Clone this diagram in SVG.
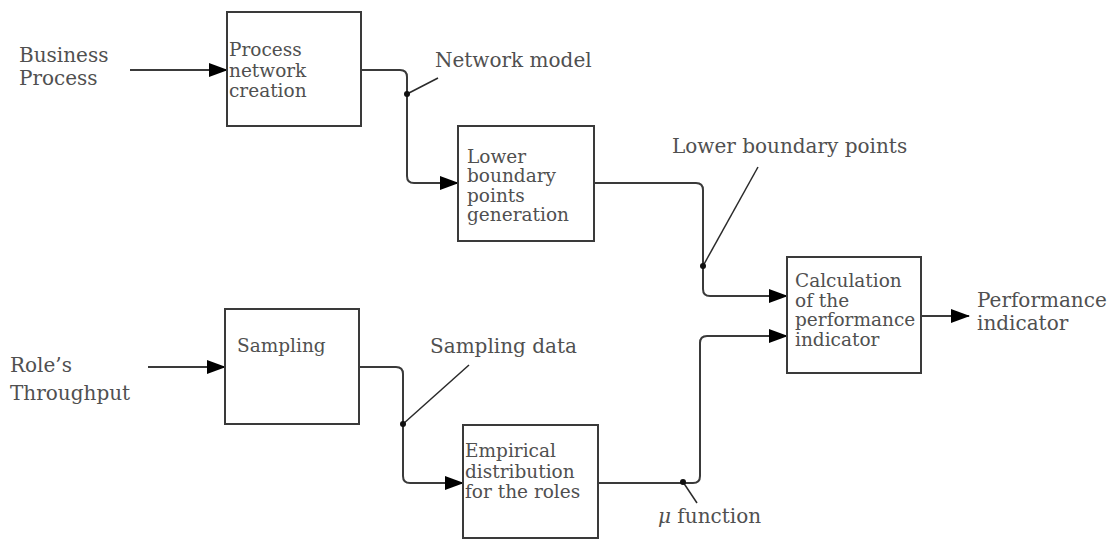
<svg xmlns="http://www.w3.org/2000/svg" width="1113" height="540" viewBox="0 0 1113 540">
<defs>
<style>
.box{fill:#fff;stroke:#3a3a3a;stroke-width:2}
.t{font-family:"DejaVu Serif","Liberation Serif",serif;font-size:18.5px;fill:#505050}
.lab{font-family:"DejaVu Serif","Liberation Serif",serif;font-size:20px;fill:#505050}
.c{fill:none;stroke:#3a3a3a;stroke-width:2}
.ld{fill:none;stroke:#2a2a2a;stroke-width:1.5}
.dot{fill:#111}
</style>
<marker id="ah" markerUnits="userSpaceOnUse" markerWidth="19" markerHeight="15" refX="18" refY="7" orient="auto">
<path d="M0,0 L19,7 L0,14 z" fill="#000"/>
</marker>
</defs>
<rect width="1113" height="540" fill="#fff"/>

<g id="connectors">
<path class="c" d="M130,70 H227" marker-end="url(#ah)"/>
<path class="c" d="M361,70 H400 Q407,70 407,77 V176 Q407,183 414,183 H458" marker-end="url(#ah)"/>
<path class="c" d="M594,183 H696 Q703,183 703,190 V289 Q703,296 710,296 H787" marker-end="url(#ah)"/>
<path class="c" d="M148,367 H225" marker-end="url(#ah)"/>
<path class="c" d="M359,367 H396 Q403,367 403,374 V476 Q403,483 410,483 H463" marker-end="url(#ah)"/>
<path class="c" d="M598,483 H693 Q700,483 700,476 V343 Q700,336 707,336 H787" marker-end="url(#ah)"/>
<path class="c" d="M921,316 H969" marker-end="url(#ah)"/>
<line class="ld" x1="407" y1="94" x2="438" y2="78"/>
<line class="ld" x1="703" y1="266" x2="758" y2="167"/>
<line class="ld" x1="403" y1="424" x2="469" y2="365"/>
<line class="ld" x1="683" y1="482" x2="697" y2="503"/>
<circle class="dot" cx="407" cy="94" r="3"/>
<circle class="dot" cx="703" cy="266" r="3"/>
<circle class="dot" cx="403" cy="424" r="3"/>
<circle class="dot" cx="683" cy="482" r="3"/>
</g>

<g id="labels">
<text class="lab" x="19" y="62">Business</text>
<text class="lab" x="19" y="85">Process</text>
<text class="lab" x="435" y="67">Network model</text>
<text class="lab" x="672" y="153">Lower boundary points</text>
<text class="lab" x="10" y="372">Role’s</text>
<text class="lab" x="10" y="400">Throughput</text>
<text class="lab" x="430" y="353">Sampling data</text>
<text class="lab" x="658" y="523"><tspan font-style="italic">μ</tspan> function</text>
<text class="lab" x="977" y="307">Performance</text>
<text class="lab" x="977" y="330">indicator</text>
</g>

<g id="node-process-network">
<rect class="box" x="227" y="12" width="134" height="114"/>
<text class="t" x="229" y="56">Process</text>
<text class="t" x="229" y="77">network</text>
<text class="t" x="229" y="97">creation</text>
</g>

<g id="node-lower-boundary">
<rect class="box" x="458" y="126" width="136" height="115"/>
<text class="t" x="467" y="163">Lower</text>
<text class="t" x="467" y="182">boundary</text>
<text class="t" x="467" y="202">points</text>
<text class="t" x="467" y="221">generation</text>
</g>

<g id="node-sampling">
<rect class="box" x="225" y="309" width="134" height="115"/>
<text class="t" x="237" y="352">Sampling</text>
</g>

<g id="node-empirical">
<rect class="box" x="463" y="425" width="135" height="113"/>
<text class="t" x="465" y="457">Empirical</text>
<text class="t" x="465" y="478">distribution</text>
<text class="t" x="465" y="498">for the roles</text>
</g>

<g id="node-calculation">
<rect class="box" x="787" y="257" width="134" height="116"/>
<text class="t" x="795" y="287">Calculation</text>
<text class="t" x="795" y="307">of the</text>
<text class="t" x="795" y="326">performance</text>
<text class="t" x="795" y="346">indicator</text>
</g>
</svg>
